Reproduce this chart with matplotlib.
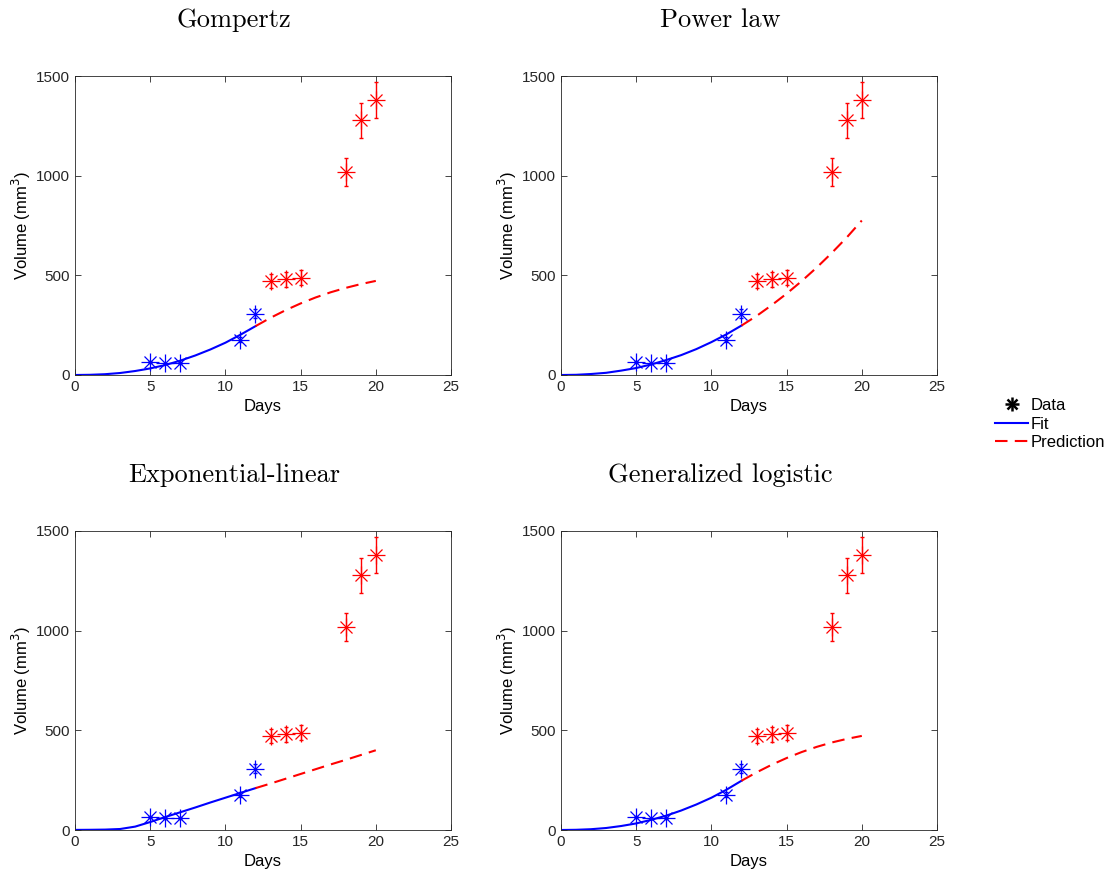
import numpy as np
import matplotlib
matplotlib.use('Agg')
import matplotlib.pyplot as plt
from matplotlib.lines import Line2D

plt.rcParams['font.family'] = ['Liberation Sans', 'DejaVu Sans']

# measured tumour volumes
fit_days = [5, 6, 7, 11, 12]
fit_vol = [66, 58, 59, 178, 308]
fit_err = [5, 4, 4, 14, 22]
pred_days = [13, 14, 15, 18, 19, 20]
pred_vol = [471, 480, 488, 1018, 1277, 1380]
pred_err = [34, 37, 38, 72, 86, 92]

# model curves
curve_days = [0, 1, 2, 3, 4, 5, 6, 7, 8, 9, 10, 11, 12]
pcurve_days = [12, 13, 14, 15, 16, 17, 18, 19, 20]

titles = ['Gompertz', 'Power law', 'Exponential-linear', 'Generalized logistic']

fit_curves = [
    [0, 1, 4, 10, 20, 33, 50, 72, 98, 128, 162, 202, 245],
    [0, 1, 5, 11, 22, 35, 53, 75, 100, 130, 165, 204, 248],
    [0.5, 1, 2, 5, 17, 40, 65, 89, 113, 138, 162, 186, 210],
    [0, 1, 4, 10, 20, 33, 51, 72, 98, 128, 162, 202, 247],
]
pred_curves = [
    [245, 287, 325, 359, 389, 415, 437, 456, 472],
    [248, 296, 350, 408, 471, 539, 612, 690, 775],
    [210, 233, 257, 281, 305, 329, 352, 376, 400],
    [247, 289, 327, 361, 391, 417, 439, 457, 472],
]

fig = plt.figure(figsize=(11.13, 8.73), dpi=100)

W, H = 1113, 873
boxes = [(75, 76), (561, 76), (75, 531), (561, 531)]
aw, ah = 376, 299
dash = (0, (6, 3.5))


def asterisk(ax, x, y, c):
    # matlab style '*' = '+' on top of 'x'
    ax.plot(x, y, ls='none', marker='+', ms=12.5, mew=0.9, color=c)
    ax.plot(x, y, ls='none', marker='x', ms=9, mew=0.9, color=c)


for i in range(4):
    x0, y0 = boxes[i]
    ax = fig.add_axes([x0 / W, 1 - (y0 + ah) / H, aw / W, ah / H])

    ax.plot(curve_days, fit_curves[i], color='blue', lw=1.5)
    ax.plot(pcurve_days, pred_curves[i], color='red', lw=1.5, ls=dash)

    ax.errorbar(fit_days, fit_vol, yerr=fit_err, fmt='none', ecolor='blue',
                elinewidth=1, capsize=1.5)
    asterisk(ax, fit_days, fit_vol, 'blue')
    ax.errorbar(pred_days, pred_vol, yerr=pred_err, fmt='none', ecolor='red',
                elinewidth=1, capsize=1.5)
    asterisk(ax, pred_days, pred_vol, 'red')

    ax.set_xlim(0, 25)
    ax.set_ylim(0, 1500)
    ax.set_xticks([0, 5, 10, 15, 20, 25])
    ax.set_yticks([0, 500, 1000, 1500])
    ax.tick_params(direction='in', top=True, right=True, length=4,
                   labelsize=11, colors='#262626', width=0.6)
    for s in ax.spines.values():
        s.set_color('#262626')
        s.set_linewidth(0.6)
    ax.set_xlabel('Days', fontsize=12, labelpad=4)
    ax.set_ylabel('Volume (mm$^3$)', fontsize=12, labelpad=2)
    ax.set_title(titles[i], fontfamily='cmr10', fontsize=19, pad=35, x=0.423)

h_data = (Line2D([], [], ls='none', marker='+', ms=10, mew=1.8, color='black'),
          Line2D([], [], ls='none', marker='x', ms=7, mew=1.8, color='black'))
handles = [
    h_data,
    Line2D([], [], color='blue', lw=1.5),
    Line2D([], [], color='red', lw=1.5, ls=dash),
]
fig.legend(handles, ['Data', 'Fit', 'Prediction'], loc='center left',
           bbox_to_anchor=(995 / W, 1 - 424 / H), frameon=False,
           fontsize=12, handlelength=2.0, handletextpad=0.15,
           labelspacing=0.22, borderpad=0, borderaxespad=0)

fig.savefig('out.png', dpi=100)
